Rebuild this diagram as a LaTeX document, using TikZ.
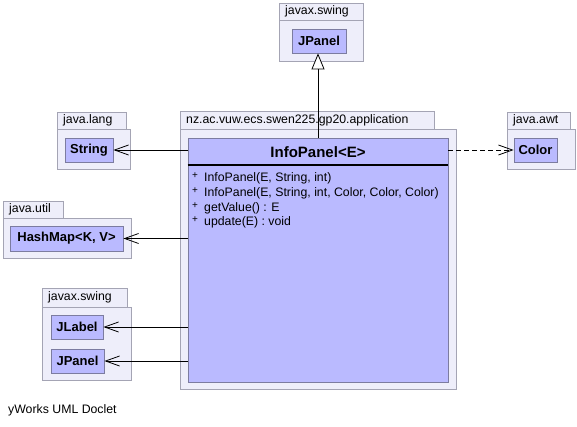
\documentclass[tikz,border=0pt]{standalone}
\usepackage{fontspec}
\setmainfont{Liberation Sans}
\usepackage{xcolor}
\usetikzlibrary{arrows.meta}
\definecolor{pkgbg}{HTML}{EEEEFA}
\definecolor{pkgline}{HTML}{A4A4B4}
\definecolor{clsbg}{HTML}{BABAFF}
\definecolor{clsline}{HTML}{7C7CA0}
\tikzset{
  pkg/.style={draw=pkgline, fill=pkgbg, line width=0.8pt},
  cls/.style={draw=clsline, fill=clsbg, line width=0.8pt, inner sep=0pt,
    font=\fontsize{13}{15}\selectfont\bfseries},
  pkglab/.style={anchor=west, inner sep=0pt, font=\fontsize{12.3}{14}\selectfont},
  member/.style={anchor=west, inner sep=0pt, font=\fontsize{12.3}{14}\selectfont},
  vis/.style={anchor=west, inner sep=0pt, font=\fontsize{10}{11}\selectfont},
  dep/.style={draw=black, line width=0.8pt, -{Straight Barb[length=14pt,width=10pt]}},
  usedep/.style={dep, dash pattern=on 5pt off 3pt},
  inherit/.style={draw=black, line width=0.8pt, -{Triangle[open,length=16pt,width=13pt,fill=white]}},
}
\begin{document}
\begin{tikzpicture}[x=1pt,y=-1pt]
  \useasboundingbox[fill=white] (0,0) rectangle (577,427);

  % packages: tab, then body
  \draw[pkg] (279,3) rectangle (363,20);
  \draw[pkg] (279,20) rectangle (363,61);
  \node[pkglab] (pkgswingA) at (285,11.5) {javax.swing};

  \draw[pkg] (57,112) rectangle (126,129);
  \draw[pkg] (57,129) rectangle (130,169);
  \node[pkglab] (pkglang) at (63,120.5) {java.lang};

  \draw[pkg] (180,111) rectangle (434,129);
  \draw[pkg] (180,129) rectangle (456,389);
  \node[pkglab] (pkgapp) at (186,120) {nz.ac.vuw.ecs.swen225.gp20.application};

  \draw[pkg] (507,112) rectangle (570,129);
  \draw[pkg] (507,129) rectangle (575,169);
  \node[pkglab] (pkgawt) at (513,120.5) {java.awt};

  \draw[pkg] (3,201) rectangle (63,218);
  \draw[pkg] (3,218) rectangle (131,258);
  \node[pkglab] (pkgutil) at (9,209.5) {java.util};

  \draw[pkg] (42,288) rectangle (127,307);
  \draw[pkg] (42,307) rectangle (131,380);
  \node[pkglab] (pkgswingB) at (48,297.5) {javax.swing};

  % classes
  \node[cls, minimum width=54pt, minimum height=24pt] (jpanelA) at (319,41) {JPanel};
  \node[cls, minimum width=48pt, minimum height=24pt] (string) at (89,150) {String};
  \node[cls, minimum width=43pt, minimum height=24pt] (color) at (535.5,150) {Color};
  \node[cls, minimum width=113pt, minimum height=25pt] (hashmap) at (66.5,238.5) {HashMap<K, V>};
  \node[cls, minimum width=52pt, minimum height=24pt] (jlabel) at (77,327) {JLabel};
  \node[cls, minimum width=53pt, minimum height=24pt] (jpanelB) at (77.5,361) {JPanel};

  % main class
  \node[cls, minimum width=260pt, minimum height=244pt] (info) at (318,260) {};
  \node[inner sep=0pt, font=\fontsize{15}{17}\selectfont\bfseries] (infoname) at (318,152) {InfoPanel<E>};
  \draw[line width=2pt] (info.west |- 0,165) -- (info.east |- 0,165);
  \foreach \y/\txt [count=\i] in {178/{InfoPanel(E, String, int)},
      193/{InfoPanel(E, String, int, Color, Color, Color)},
      208/{getValue() : E},
      222/{update(E) : void}}{
    \node[vis] (vis\i) at (192,\y-2) {+};
    \node[member] (member\i) at (204,\y) {\txt};
  }

  % connectors
  \draw[inherit] (info.north) -- (info.north |- jpanelA.south);
  \draw[dep] (string -| info.west) -- (string.east);
  \draw[dep] (hashmap -| info.west) -- (hashmap.east);
  \draw[dep] (jlabel -| info.west) -- (jlabel.east);
  \draw[dep] (jpanelB -| info.west) -- (jpanelB.east);
  \draw[usedep] (color -| info.east) -- (color.west);

  \node[member] (doclet) at (8,410) {yWorks UML Doclet};
\end{tikzpicture}
\end{document}
